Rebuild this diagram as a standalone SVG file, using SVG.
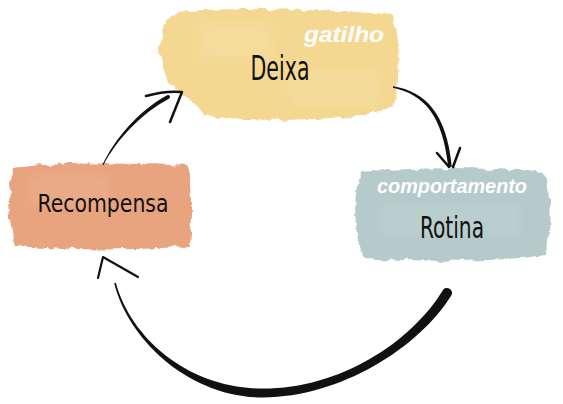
<svg xmlns="http://www.w3.org/2000/svg" width="563" height="404" viewBox="0 0 563 404">
<defs>
<filter id="rough" x="-10%" y="-10%" width="120%" height="120%">
<feTurbulence type="fractalNoise" baseFrequency="0.09" numOctaves="3" seed="4" result="n"/>
<feDisplacementMap in="SourceGraphic" in2="n" scale="7" xChannelSelector="R" yChannelSelector="G"/>
</filter>
<filter id="soft"><feGaussianBlur stdDeviation="4"/></filter>
<style>
.lbl{font-family:"DejaVu Sans Condensed","Liberation Sans Narrow","Liberation Sans",sans-serif;fill:#111;text-anchor:middle}
.sub{font-family:"Liberation Sans","DejaVu Sans",sans-serif;font-weight:bold;font-style:italic;fill:#fff;text-anchor:middle}
.ink{fill:#111}
.head{fill:none;stroke:#111;stroke-linecap:round;stroke-linejoin:round}
</style>
</defs>
<rect width="563" height="404" fill="#fff"/>
<g id="deixa">
<path filter="url(#rough)" fill="#f4d892" d="M178,12 C230,6 330,10 392,14 C400,30 400,70 396,100 C390,112 360,116 330,118 C290,121 240,120 205,116 C195,100 180,95 168,80 C158,60 158,35 165,22 Z"/>
<rect x="200" y="24" width="70" height="36" fill="#f8e3b0" opacity="0.35" filter="url(#soft)"/>
<rect x="290" y="72" width="90" height="32" fill="#f8e3b0" opacity="0.3" filter="url(#soft)"/>
<text class="sub" x="344" y="42" font-size="22" textLength="80" lengthAdjust="spacingAndGlyphs">gatilho</text>
<text class="lbl" x="280" y="80" font-size="33" textLength="59" lengthAdjust="spacingAndGlyphs">Deixa</text>
</g>
<g id="rotina">
<path filter="url(#rough)" fill="#b5caca" d="M360,172 C420,166 500,168 545,172 C552,200 550,235 546,255 C500,262 420,262 362,258 C355,235 352,200 360,172 Z"/>
<rect x="380" y="205" width="140" height="30" fill="#c6d6d6" opacity="0.35" filter="url(#soft)"/>
<text class="sub" x="452" y="193" font-size="19.5" textLength="150" lengthAdjust="spacingAndGlyphs">comportamento</text>
<text class="lbl" x="452" y="238" font-size="31" textLength="64" lengthAdjust="spacingAndGlyphs">Rotina</text>
</g>
<g id="recompensa">
<path filter="url(#rough)" fill="#e7a47f" d="M14,168 C60,162 140,163 188,166 C194,190 192,225 190,246 C140,251 60,250 16,246 C8,225 7,190 14,168 Z"/>
<rect x="30" y="175" width="80" height="30" fill="#eeb897" opacity="0.35" filter="url(#soft)"/>
<text class="lbl" x="103" y="212" font-size="25" textLength="131" lengthAdjust="spacingAndGlyphs">Recompensa</text>
</g>
<g id="connectors">
<path class="ink" d="M103.4,165.2 C116,140.6 141.1,113.4 168.9,98.8 A2,2 0 0 0 167.1,95.2 C138.9,110.6 114,139.4 102.6,164.8 Z"/>
<path class="head" stroke-width="2.5" d="M146,96 C160,92 172,91 182,92 L170,122"/>
<path class="ink" d="M392.9,87.8 C423.9,94.4 442.9,115.6 448.2,167.2 L451.8,166.8 C447.1,114.4 426.1,91.6 393.1,86.2 Z"/>
<path class="head" stroke-width="2.5" d="M437,153 L449,167 M460,148 L453,167"/>
<path class="ink" d="M442.7,290.4 C410.8,342.4 340,388.5 263,388.5 C190,389 131.5,339.6 115.8,282.8 L114.2,283.2 C128.5,340.4 190,397.5 263,397.5 C340,397.5 419.2,347.6 451.3,295.6 A5,5 0 0 0 442.7,290.4 Z"/>
<path class="head" stroke-width="2.2" d="M98,278 L103,257 L138,277"/>
</g>
</svg>
